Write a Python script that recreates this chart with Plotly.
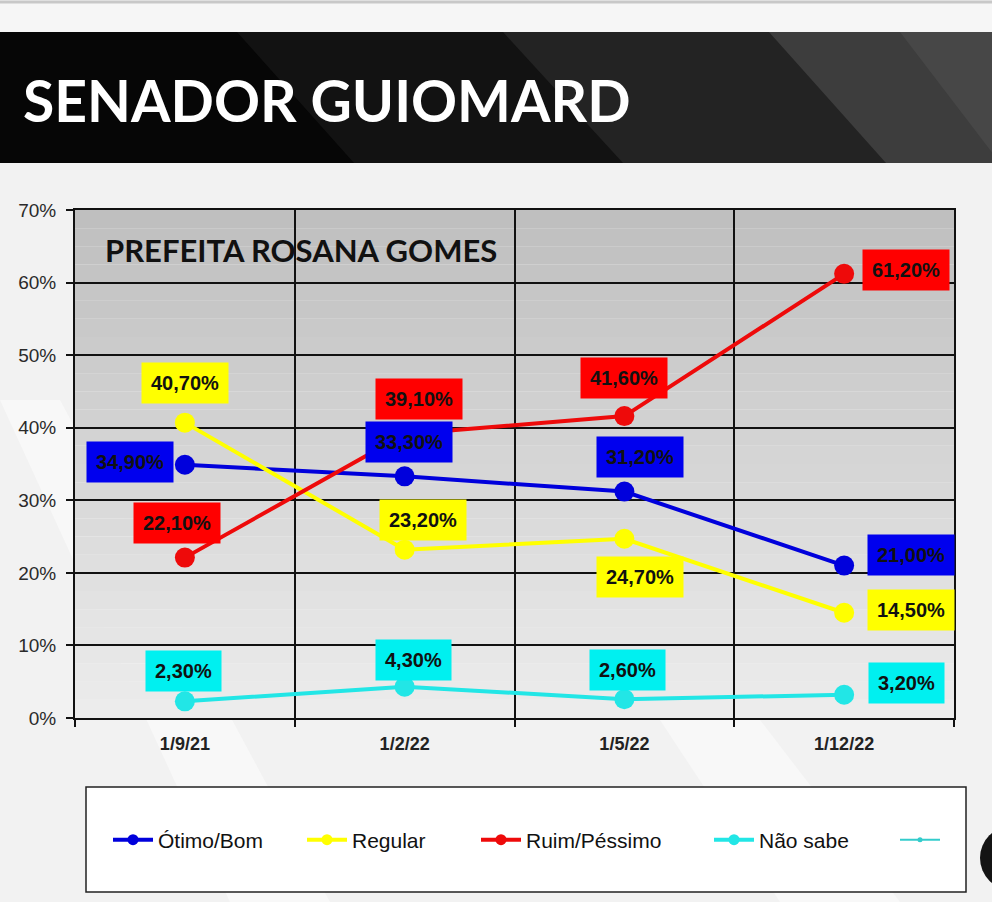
import plotly.graph_objects as go

# ---------------- data ----------------
dates = ["1/9/21", "1/2/22", "1/5/22", "1/12/22"]
otimo_bom = [34.9, 33.3, 31.2, 21.0]
regular = [40.7, 23.2, 24.7, 14.5]
ruim_pessimo = [22.1, 39.1, 41.6, 61.2]
nao_sabe = [2.3, 4.3, 2.6, 3.2]
extra_series = [None]

series_names = ["Ótimo/Bom", "Regular", "Ruim/Péssimo", "Não sabe"]
y_tick_vals = [0, 10, 20, 30, 40, 50, 60, 70]
y_tick_text = [f"{v}%" for v in y_tick_vals]
chart_title = "SENADOR GUIOMARD"
chart_subtitle = "PREFEITA ROSANA GOMES"

# ---------------- style ----------------
OFF = 0
W, H = 992 - OFF, 902 - OFF
L, R, T, B = 75 - OFF, 954 - OFF, 210 - OFF, 718 - OFF

def px(x):
    return (x - OFF - L) / (R - L)

def py(y):
    return (B - (y - OFF)) / (B - T)

line_colors = ["#0000dc", "#ffff00", "#ee0a0a", "#22e6e6"]
box_colors = ["#0000ee", "#ffff00", "#ff0000", "#00f0f0"]
label_offsets = [
    [(-55, 3), (4, 34), (16, 35), (67, 11)],
    [(0, 40), (18, 30), (16, -38), (67, 3)],
    [(-8, 35), (14, 35), (0, 38), (62, 4)],
    [(-1, 30), (9, 27), (3, 29), (62, 12)],
]
legend_sym_x = [110, 304, 478, 711, 897]

all_series = [otimo_bom, regular, ruim_pessimo, nao_sabe]

fig = go.Figure()
legend_keys = ["legend", "legend2", "legend3", "legend4", "legend5"]

for i, (name, vals) in enumerate(zip(series_names, all_series)):
    fig.add_trace(go.Scatter(
        x=dates, y=vals, name=name, mode="lines+markers",
        line=dict(color=line_colors[i], width=4),
        marker=dict(size=11, color=line_colors[i]),
        legend=legend_keys[i], hoverinfo="skip",
    ))
for i, (name, vals) in enumerate(zip(series_names, all_series)):
    fig.add_trace(go.Scatter(
        x=dates, y=vals, name=name, mode="markers",
        marker=dict(size=20, color=line_colors[i]),
        showlegend=False, hoverinfo="skip",
    ))

fig.add_trace(go.Scatter(
    x=[dates[0]], y=extra_series, name=" ", mode="lines+markers",
    line=dict(color="#33cccc", width=2), marker=dict(size=5, color="#33cccc"),
    legend="legend5", showlegend=True, hoverinfo="skip",
))

# ---------------- data labels ----------------
annotations = []
label_order = [2, 0, 1, 3]
for i in label_order:
    vals = all_series[i]
    for j, v in enumerate(vals):
        dx, dy = label_offsets[i][j]
        annotations.append(dict(
            x=dates[j], y=v, xref="x", yref="y",
            text=f"<b>{v:.2f}".replace(".", ",") + "%</b>",
            showarrow=False, xshift=dx, yshift=dy,
            font=dict(family="Liberation Sans, Arial", size=20, color="#111111"),
            bgcolor=box_colors[i], borderpad=9,
        ))

annotations.append(dict(
    x=px(21), y=py(100), xref="paper", yref="paper",
    xanchor="left", yanchor="middle", showarrow=False,
    text=chart_title,
    font=dict(family="Lato", size=57, color="#ffffff", weight=700),
))
annotations.append(dict(
    x=px(103), y=py(250), xref="paper", yref="paper",
    xanchor="left", yanchor="middle", showarrow=False,
    text=chart_subtitle,
    font=dict(family="Lato", size=31, color="#111111", weight=700),
))

# ---------------- background shapes ----------------
shapes = []
shapes.append(dict(type="rect", xref="paper", yref="paper",
                   x0=px(0), x1=px(992), y0=py(32), y1=py(0),
                   fillcolor="#f6f6f6", line=dict(width=0), layer="below"))
shapes.append(dict(type="line", xref="paper", yref="paper",
                   x0=px(0), x1=px(992), y0=py(2), y1=py(2),
                   line=dict(color="#c8c8c8", width=3), layer="below"))
band = [
    ((0, 32), (992, 32), (992, 163), (0, 163), "#060606"),
    ((237, 32), (992, 32), (992, 163), (354, 163), "#121212"),
    ((503, 32), (992, 32), (992, 163), (623, 163), "#232323"),
    ((769, 32), (992, 32), (992, 163), (886, 163), "#3d3d3d"),
    ((900, 32), (992, 32), (992, 163), (1000, 163), "#474747"),
]
for p1, p2, p3, p4, col in band:
    path = "M {} {} L {} {} L {} {} L {} {} Z".format(
        px(p1[0]), py(p1[1]), px(p2[0]), py(p2[1]),
        px(p3[0]), py(p3[1]), px(p4[0]), py(p4[1]))
    shapes.append(dict(type="path", xref="paper", yref="paper", path=path,
                       fillcolor=col, line=dict(width=0), layer="below"))

for (a, b, c, d) in [((0, 400), (60, 400), (330, 902), (230, 902)),
                     ((660, 720), (760, 720), (900, 902), (780, 902))]:
    path = "M {} {} L {} {} L {} {} L {} {} Z".format(
        px(a[0]), py(a[1]), px(b[0]), py(b[1]),
        px(c[0]), py(c[1]), px(d[0]), py(d[1]))
    shapes.append(dict(type="path", xref="paper", yref="paper", path=path,
                       fillcolor="#f8f8f8", line=dict(width=0), layer="below"))

n = 28
top_rgb = (191, 191, 191)
bot_rgb = (236, 236, 236)
for k in range(n):
    t = k / (n - 1)
    c = tuple(int(round(top_rgb[m] + (bot_rgb[m] - top_rgb[m]) * t)) for m in range(3))
    shapes.append(dict(type="rect", xref="x domain", yref="y domain",
                       x0=0, x1=1, y0=1 - (k + 1) / n, y1=1 - k / n,
                       fillcolor="rgb({},{},{})".format(*c),
                       line=dict(width=0), layer="below"))

shapes.append(dict(type="rect", xref="paper", yref="paper",
                   x0=px(86), x1=px(966), y0=py(892), y1=py(787),
                   fillcolor="#ffffff", line=dict(color="#222222", width=1.5),
                   layer="below"))
shapes.append(dict(type="circle", xref="paper", yref="paper",
                   x0=px(980), x1=px(1044), y0=py(890), y1=py(826),
                   fillcolor="#141414", line=dict(width=0), layer="above"))

layout_legends = {}
for idx, key in enumerate(legend_keys):
    layout_legends[key] = dict(
        x=px(legend_sym_x[idx] - 2), y=py(840), xanchor="left", yanchor="middle",
        orientation="h", bgcolor="rgba(0,0,0,0)", borderwidth=0,
        itemwidth=40, font=dict(family="Liberation Sans, Arial", size=21, color="#111111"),
        itemclick=False, itemdoubleclick=False,
    )

fig.update_layout(
    width=W, height=H,
    margin=dict(l=L, r=W - R, t=T, b=H - B, pad=0),
    paper_bgcolor="#f2f2f2",
    plot_bgcolor="rgba(0,0,0,0)",
    showlegend=True,
    annotations=annotations,
    shapes=shapes,
    hovermode=False,
    **layout_legends,
)

fig.update_xaxes(
    type="category", categoryorder="array", categoryarray=dates,
    range=[-0.5, 3.5],
    tickson="boundaries", ticks="outside", ticklen=7, tickwidth=1.5, tickcolor="#111111",
    showgrid=True, gridcolor="#111111", gridwidth=1.5,
    showline=True, linecolor="#111111", linewidth=2, mirror=True,
    tickfont=dict(family="Liberation Sans, Arial", size=18, color="#222222", weight=700),
    ticklabelstandoff=8,
)
fig.update_yaxes(
    range=[0, 70], tickmode="array", tickvals=y_tick_vals, ticktext=y_tick_text,
    ticks="outside", ticklen=7, tickwidth=1.5, tickcolor="#111111",
    showgrid=True, gridcolor="#111111", gridwidth=1.5, zeroline=False,
    showline=True, linecolor="#111111", linewidth=2, mirror=True,
    tickfont=dict(family="Liberation Sans, Arial", size=19, color="#2a2a2a"),
    ticklabelstandoff=6,
)

fig.write_html(
    "out.html",
    config={"displayModeBar": False},
    post_script="document.body.style.margin='0';document.body.style.overflow='hidden';",
)
